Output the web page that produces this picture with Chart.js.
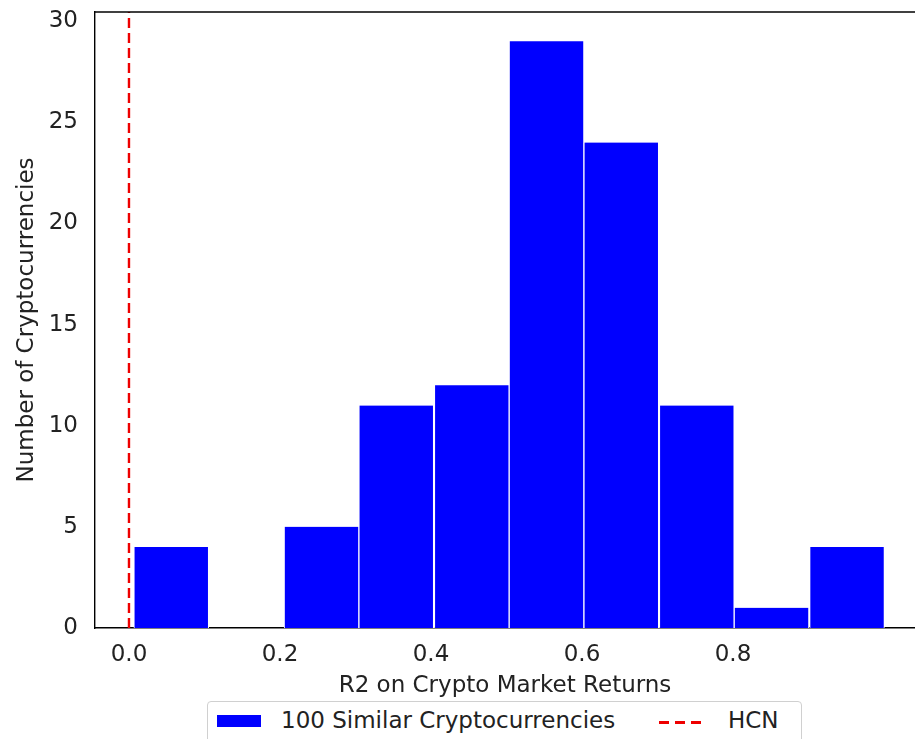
<!DOCTYPE html>
<html>
<head>
<meta charset="utf-8">
<script src="https://cdn.jsdelivr.net/npm/chart.js@4.4.0/dist/chart.umd.min.js"></script>
<style>
  html, body { margin: 0; padding: 0; background: #fff; }
  #wrap { position: relative; width: 915px; height: 739px; overflow: hidden; }
  #legend {
    position: absolute; left: 207px; top: 701px; width: 593px; height: 50px;
    border: 1px solid #d0d0d0; border-radius: 4px; background: #fff;
    font-family: "DejaVu Sans", sans-serif; font-size: 23px; line-height: 27px; color: #222;
  }
  #legend .patch { position: absolute; left: 9px; top: 13px; width: 44px; height: 12px; background: #0000ff; }
  #legend .t1 { position: absolute; left: 73px; top: 5px; }
  #legend .dash {
    position: absolute; left: 451px; top: 19px; width: 43px; height: 3px;
    background: repeating-linear-gradient(to right, #ee0000 0 10px, transparent 10px 16px);
  }
  #legend .t2 { position: absolute; left: 520px; top: 5px; }
</style>
</head>
<body>
<div id="wrap">
<canvas id="c1" width="915" height="739"></canvas>
<div id="legend">
  <div class="patch"></div><div class="t1">100 Similar Cryptocurrencies</div>
  <div class="dash"></div><div class="t2">HCN</div>
</div>
</div>
<script>
// histogram bins (center of each bin) and counts
var binCenters = [0.056, 0.156, 0.255, 0.354, 0.454, 0.553, 0.652, 0.752, 0.851, 0.951];
var counts = [4, 0, 5, 11, 12, 29, 24, 11, 1, 4];
var hcn = 0.0;
var xTicks = [0.0, 0.2, 0.4, 0.6, 0.8];
var yTicks = [0, 5, 10, 15, 20, 25, 30];
var yMax = 30.45;

var barData = [];
for (var i = 0; i < binCenters.length; i++) {
  barData.push({x: binCenters[i], y: counts[i]});
}

// top spine like matplotlib
var topSpine = {
  id: 'topSpine',
  afterDatasetsDraw: function(chart) {
    var a = chart.chartArea, ctx = chart.ctx;
    ctx.save();
    ctx.strokeStyle = '#000';
    ctx.lineWidth = 1.4;
    ctx.beginPath();
    ctx.moveTo(a.left, a.top);
    ctx.lineTo(a.right, a.top);
    ctx.stroke();
    ctx.restore();
  }
};

var ctx = document.getElementById('c1').getContext('2d');
var chart1 = new Chart(ctx, {
  type: 'bar',
  data: {
    datasets: [{
      type: 'line',
      label: 'HCN',
      data: [{x: hcn, y: 0}, {x: hcn, y: yMax}],
      borderColor: '#ee0000',
      borderWidth: 2.4,
      borderDash: [10, 5],
      pointRadius: 0,
      order: 0
    }, {
      label: '100 Similar Cryptocurrencies',
      data: barData,
      backgroundColor: '#0000ff',
      borderColor: '#ffffff',
      borderWidth: {left: 1, right: 1, top: 0, bottom: 0},
      borderSkipped: false,
      barPercentage: 1.0,
      categoryPercentage: 1.0,
      order: 1
    }]
  },
  options: {
    responsive: false,
    animation: false,
    layout: {padding: {top: 12, right: 0, bottom: 0, left: 0}},
    plugins: {legend: {display: false}, tooltip: {enabled: false}},
    scales: {
      x: {
        type: 'linear',
        min: -0.045,
        max: 1.041,
        offset: false,
        afterBuildTicks: function(scale) {
          scale.ticks = xTicks.map(function(v) { return {value: v}; });
        },
        afterFit: function(scale) {
          scale.height = 111;
          scale.paddingLeft = 0;
          scale.paddingRight = 0;
        },
        grid: {display: false, drawTicks: true, tickLength: 7, tickColor: '#000'},
        border: {display: true, color: '#000', width: 1.4},
        ticks: {
          color: '#222',
          font: {family: 'DejaVu Sans', size: 23},
          padding: 6,
          maxRotation: 0,
          callback: function(v) { return v.toFixed(1); }
        },
        title: {
          display: true,
          text: 'R2 on Crypto Market Returns',
          color: '#222',
          font: {family: 'DejaVu Sans', size: 23},
          padding: {top: 4, bottom: 39}
        }
      },
      y: {
        min: 0,
        max: yMax,
        afterBuildTicks: function(scale) {
          scale.ticks = yTicks.map(function(v) { return {value: v}; });
        },
        afterFit: function(scale) {
          scale.width = 95;
          scale.paddingTop = 0;
          scale.paddingBottom = 0;
        },
        grid: {display: false, drawTicks: true, tickLength: 7, tickColor: '#000'},
        border: {display: true, color: '#000', width: 1.4},
        ticks: {
          color: '#222',
          font: {family: 'DejaVu Sans', size: 23},
          padding: 10
        },
        title: {
          display: true,
          text: 'Number of Cryptocurrencies',
          color: '#222',
          font: {family: 'DejaVu Sans', size: 23},
          padding: {top: 13, bottom: 0}
        }
      }
    }
  },
  plugins: [topSpine]
});
</script>
</body>
</html>
